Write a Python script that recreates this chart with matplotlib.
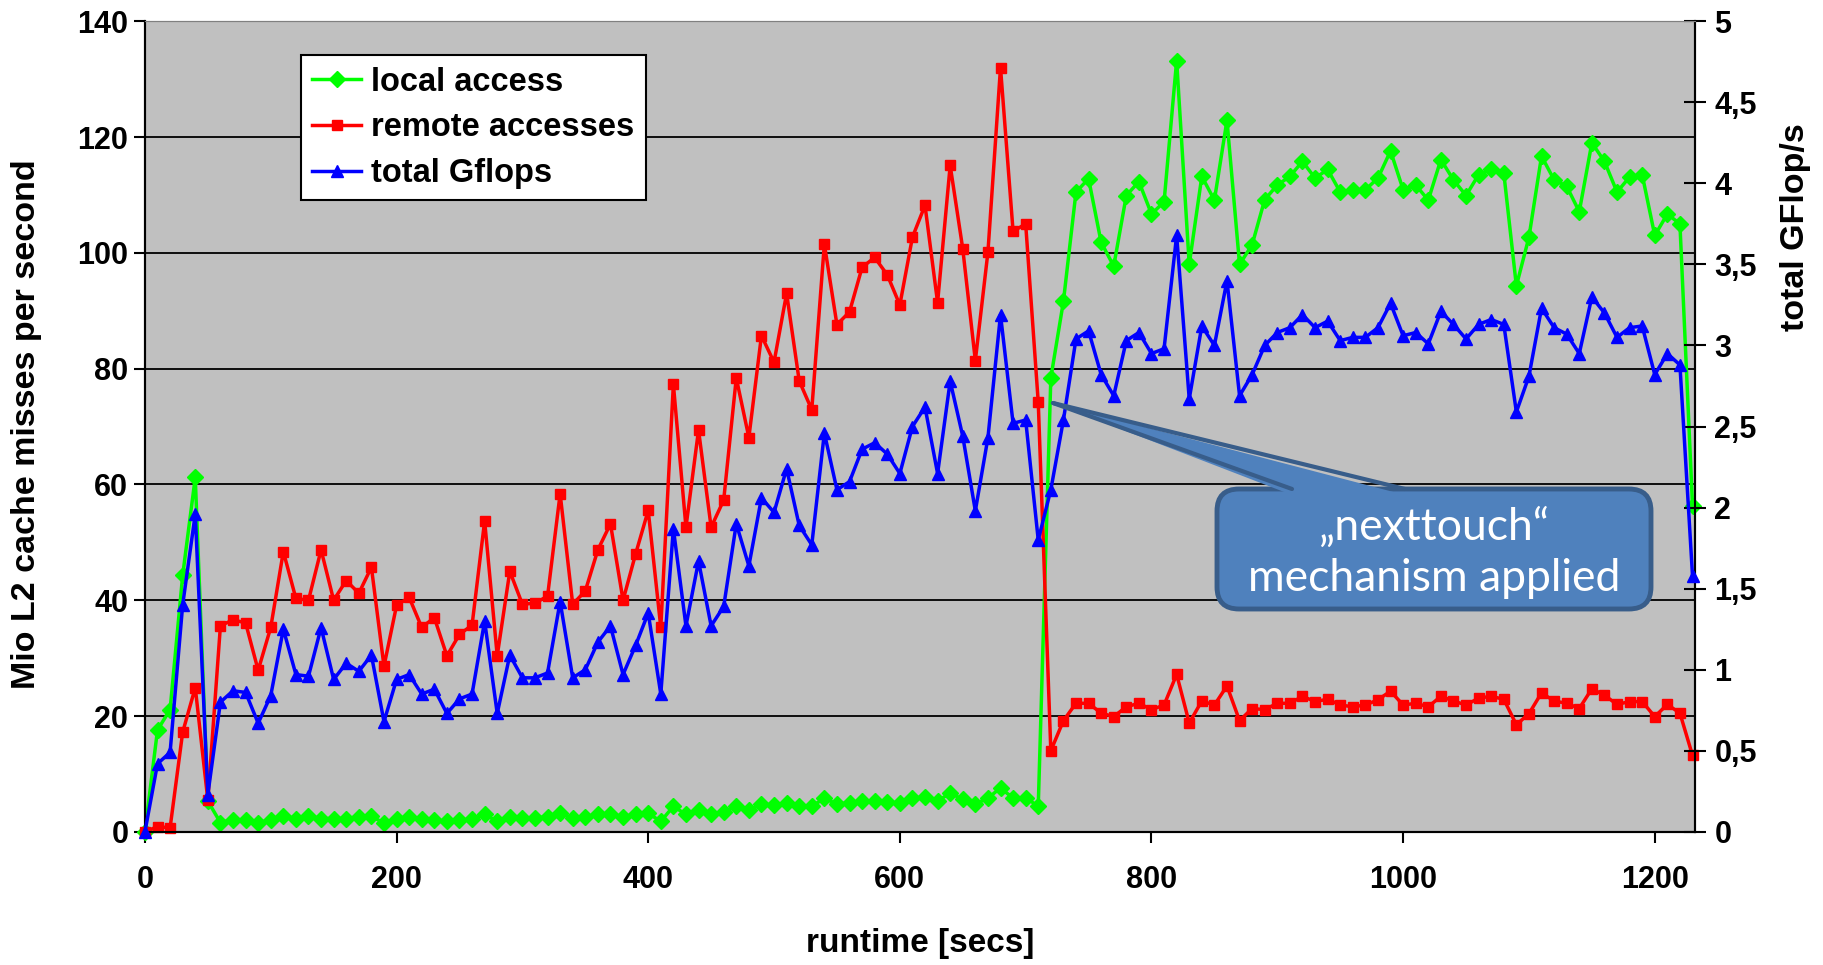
import matplotlib
matplotlib.use("Agg")
import matplotlib.pyplot as plt
from matplotlib.patches import FancyBboxPatch, Polygon
from matplotlib.lines import Line2D
from matplotlib.ticker import FuncFormatter

plt.rcParams['font.family'] = ['Liberation Sans', 'DejaVu Sans']
plt.rcParams['font.weight'] = 'bold'

# runtime in seconds, one sample every 10 s
secs = list(range(0, 1240, 10))

local_access = [
    0, 17.6, 21.1, 44.3, 61.2, 5.3, 1.6, 2.1, 2.1, 1.5,
    2.1, 2.7, 2.3, 2.7, 2.3, 2.3, 2.3, 2.6, 2.7, 1.5,
    2.3, 2.5, 2.2, 2.0, 1.8, 2.0, 2.2, 3.0, 1.8, 2.6,
    2.4, 2.4, 2.6, 3.2, 2.4, 2.6, 3.0, 3.0, 2.6, 3.0,
    3.2, 1.8, 4.4, 3.0, 3.7, 3.0, 3.5, 4.4, 3.7, 4.8,
    4.6, 5.0, 4.4, 4.4, 5.8, 4.8, 5.0, 5.3, 5.3, 5.1,
    5.0, 5.8, 6.0, 5.3, 6.7, 5.6, 4.8, 5.8, 7.6, 5.8,
    5.9, 4.4, 78.4, 91.6, 110.5, 112.8, 101.8, 97.7, 109.9, 112.3,
    106.7, 108.8, 133.2, 98.0, 113.2, 109.1, 122.9, 98.0, 101.4, 109.2,
    111.7, 113.2, 115.8, 112.9, 114.4, 110.5, 110.9, 110.9, 112.9, 117.6,
    110.9, 111.7, 109.1, 116.1, 112.6, 109.9, 113.5, 114.4, 113.8, 94.3,
    102.7, 116.7, 112.6, 111.5, 107.1, 119.0, 115.8, 110.5, 113.1, 113.5,
    103.0, 106.7, 105.0, 56.3,
]

remote_accesses = [
    0, 0.9, 0.7, 17.2, 24.9, 5.5, 35.6, 36.6, 36.1, 27.9,
    35.3, 48.4, 40.3, 40.0, 48.7, 40.0, 43.4, 41.2, 45.7, 28.6,
    39.1, 40.5, 35.3, 37.0, 30.4, 34.1, 35.7, 53.7, 30.4, 45.0,
    39.3, 39.5, 40.7, 58.4, 39.3, 41.6, 48.7, 53.2, 40.0, 48.0,
    55.5, 35.3, 77.3, 52.6, 69.4, 52.6, 57.3, 78.4, 68.1, 85.7,
    81.1, 93.0, 77.9, 72.9, 101.5, 87.6, 89.8, 97.5, 99.2, 96.2,
    91.0, 102.7, 108.2, 91.4, 115.1, 100.7, 81.4, 100.1, 132.0, 103.7,
    105.0, 74.2, 14.0, 19.2, 22.2, 22.2, 20.5, 19.9, 21.6, 22.2,
    21.1, 21.9, 27.2, 18.8, 22.6, 21.9, 25.2, 19.2, 21.3, 21.1,
    22.2, 22.2, 23.4, 22.5, 22.9, 21.9, 21.6, 21.9, 22.8, 24.3,
    21.9, 22.2, 21.6, 23.4, 22.6, 21.9, 23.1, 23.4, 22.9, 18.5,
    20.4, 24.0, 22.6, 22.2, 21.3, 24.7, 23.6, 22.0, 22.5, 22.5,
    19.9, 22.0, 20.5, 13.2,
]

total_gflops = [
    0, 0.42, 0.49, 1.40, 1.96, 0.23, 0.80, 0.87, 0.86, 0.67,
    0.84, 1.25, 0.97, 0.96, 1.26, 0.94, 1.04, 0.99, 1.09, 0.68,
    0.94, 0.97, 0.85, 0.88, 0.73, 0.82, 0.85, 1.30, 0.73, 1.09,
    0.95, 0.95, 0.98, 1.42, 0.95, 1.00, 1.17, 1.27, 0.97, 1.15,
    1.35, 0.85, 1.87, 1.27, 1.67, 1.27, 1.39, 1.90, 1.64, 2.06,
    1.97, 2.24, 1.89, 1.77, 2.46, 2.11, 2.16, 2.36, 2.40, 2.33,
    2.21, 2.50, 2.62, 2.21, 2.78, 2.44, 1.98, 2.43, 3.19, 2.52,
    2.54, 1.80, 2.11, 2.54, 3.04, 3.09, 2.82, 2.69, 3.03, 3.08,
    2.95, 2.98, 3.68, 2.67, 3.12, 3.00, 3.40, 2.69, 2.82, 3.00,
    3.08, 3.11, 3.19, 3.11, 3.15, 3.03, 3.05, 3.05, 3.11, 3.26,
    3.06, 3.08, 3.01, 3.21, 3.13, 3.04, 3.13, 3.16, 3.13, 2.59,
    2.81, 3.23, 3.11, 3.07, 2.95, 3.30, 3.20, 3.05, 3.11, 3.12,
    2.82, 2.95, 2.88, 1.58,
]

left_ticks = [0, 20, 40, 60, 80, 100, 120, 140]
right_ticks = [0, 0.5, 1, 1.5, 2, 2.5, 3, 3.5, 4, 4.5, 5]
x_ticks = [0, 200, 400, 600, 800, 1000, 1200]

fig = plt.figure(figsize=(18.23, 9.65), dpi=100)
ax = fig.add_axes([0.0795, 0.138, 0.8503, 0.840])
ax.set_facecolor('#C0C0C0')
ax.set_xlim(0, 1232)
ax.set_ylim(0, 140)
ax.set_yticks(left_ticks)
ax.set_xticks(x_ticks)
ax.yaxis.grid(True, color='black', lw=1.3)
ax.set_axisbelow(True)

ax.plot(secs, local_access, color='#00FF00', lw=2.5, marker='D', ms=8.5,
        clip_on=False, zorder=3)
ax.plot(secs, remote_accesses, color='#FF0000', lw=2.5, marker='s', ms=7,
        clip_on=False, zorder=4)

ax2 = ax.twinx()
ax2.set_ylim(0, 5)
ax2.set_yticks(right_ticks)
ax2.yaxis.set_major_formatter(FuncFormatter(lambda v, p: ('%g' % v).replace('.', ',')))
ax2.plot(secs, total_gflops, color='#0000FF', lw=2.5, marker='^', ms=8.5,
         clip_on=False, zorder=3)

for a in (ax, ax2):
    a.spines['top'].set_color('#808080')
    a.spines['left'].set_linewidth(1.5)
    a.spines['bottom'].set_linewidth(1.5)
    a.spines['right'].set_linewidth(1.5)

ax.tick_params(axis='y', direction='out', length=8, width=1.5, labelsize=22, pad=4)
ax.tick_params(axis='x', direction='out', length=8, width=1.5, labelsize=22, pad=16)
ax2.tick_params(axis='y', direction='inout', length=16, width=1.5, labelsize=22, pad=6)

fig.text(0.0145, 0.56, 'Mio L2 cache misses per second', rotation=90,
         ha='center', va='center', fontsize=24.5, fontweight='bold')
fig.text(0.985, 0.765, 'total GFlop/s', rotation=90,
         ha='center', va='center', fontsize=24.5, fontweight='bold')
fig.text(0.5047, 0.0218, 'runtime [secs]', ha='center', va='center',
         fontsize=24, fontweight='bold')

handles = [
    Line2D([], [], color='#00FF00', lw=2.5, marker='D', ms=8.5),
    Line2D([], [], color='#FF0000', lw=2.5, marker='s', ms=7),
    Line2D([], [], color='#0000FF', lw=2.5, marker='^', ms=8.5),
]
labels = ['local access', 'remote accesses', 'total Gflops']
leg = ax2.legend(handles, labels, loc='upper left', bbox_to_anchor=(0.1006, 0.958),
                 borderaxespad=0, fancybox=False, framealpha=1, edgecolor='black',
                 fontsize=23.5, handlelength=1.5, handletextpad=0.3,
                 labelspacing=0.45, borderpad=0.35)
leg.get_frame().set_linewidth(1.5)
leg.set_zorder(10)

# callout box ("nexttouch" annotation), placed in inches on the figure
blue_fill = '#4F81BD'
blue_edge = '#385D8A'
tr = fig.dpi_scale_trans
box = FancyBboxPatch((12.17, 3.56), 4.34, 1.20,
                     boxstyle='round,pad=0,rounding_size=0.22',
                     fc=blue_fill, ec=blue_edge, lw=3.5, transform=tr, zorder=20)
fig.add_artist(box)
tip = (10.53, 5.62)
base_l = (12.92, 4.70)
base_r = (14.05, 4.70)
wedge = Polygon([base_l, tip, base_r], closed=True, fc=blue_fill, ec='none',
                transform=tr, zorder=21)
fig.add_artist(wedge)
for bx, by in [(12.92, 4.76), (14.05, 4.76)]:
    fig.add_artist(Line2D([bx, tip[0]], [by, tip[1]], color=blue_edge, lw=3,
                          transform=tr, zorder=22, solid_capstyle='round'))
fig.text(14.34, 4.12, '\u201enexttouch\u201c\nmechanism applied', transform=tr,
         ha='center', va='center', color='white', fontsize=32, fontweight='normal',
         family=['Lato', 'DejaVu Sans'], linespacing=1.3, zorder=23)

fig.savefig('out.png', dpi=100)
